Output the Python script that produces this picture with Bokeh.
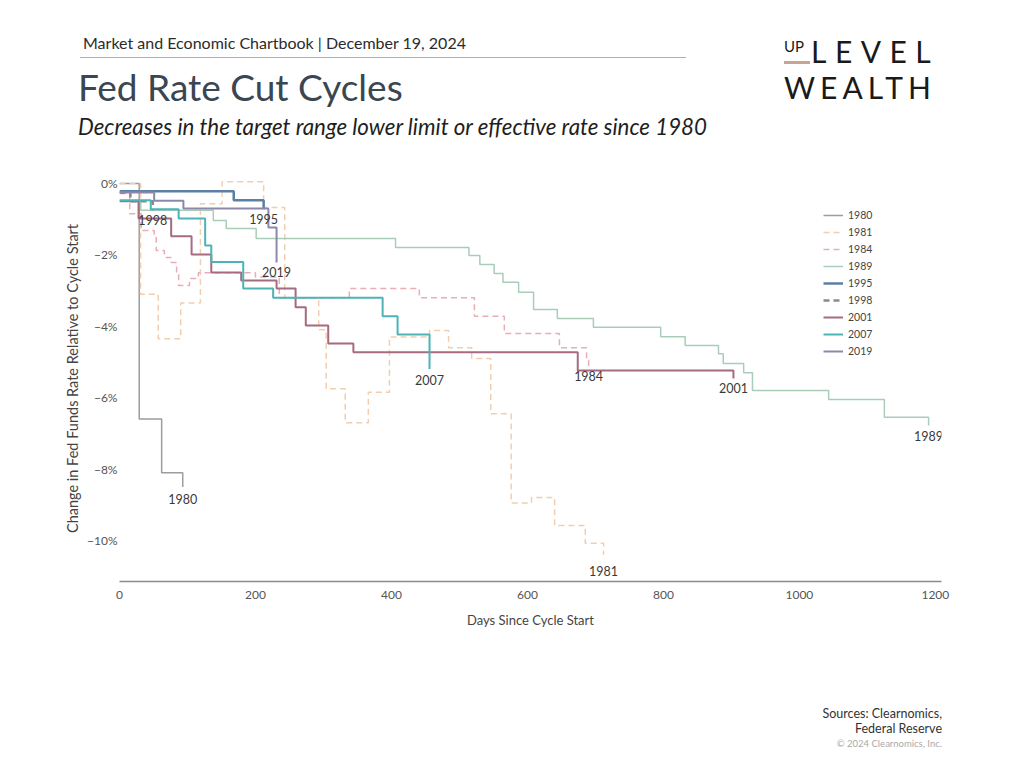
from bokeh.plotting import figure
from bokeh.models import (Range1d, CustomJSTickFormatter, FixedTicker, LabelSet,
                          ColumnDataSource, Div)
from bokeh.layouts import column
from bokeh.embed import file_html
from bokeh.resources import INLINE
from bokeh.core.properties import value

FONT = "Lato"

# ---------------- data (days since cycle start, change in % points) -------------
years = ["1980", "1981", "1984", "1989", "1995", "1998", "2001", "2007", "2019"]

days_1980 = [0, 29, 62, 93]
vals_1980 = [0, -6.6, -8.1, -8.5]

days_1981 = [0, 31, 57, 90, 119, 151, 212, 243, 293, 304, 332, 366, 397, 456, 484, 518, 546, 576, 606, 640, 685, 712]
vals_1981 = [0, -3.1, -4.35, -3.35, -0.57, 0.05, -0.67, -3.2, -4.1, -5.75, -6.7, -5.85, -4.3, -4.12, -4.6, -4.9, -6.45, -8.95, -8.8, -9.58, -10.08, -10.4]

days_1984 = [0, 15, 32, 51, 54, 66, 76, 84, 87, 103, 116, 200, 235, 338, 441, 522, 566, 647, 687, 690]
vals_1984 = [-0.28, -0.85, -1.32, -1.46, -1.88, -2.07, -2.21, -2.52, -2.86, -2.66, -2.5, -2.62, -3.2, -2.94, -3.2, -3.72, -4.2, -4.6, -4.95, -5.15]

days_1989 = [0, 31, 138, 157, 201, 406, 514, 530, 551, 564, 587, 609, 644, 697, 796, 832, 881, 888, 918, 931, 1043, 1125, 1190]
vals_1989 = [-0.5, -0.75, -1.04, -1.26, -1.54, -1.79, -2.02, -2.27, -2.52, -2.77, -3.05, -3.53, -3.78, -4.03, -4.29, -4.54, -4.77, -5.04, -5.3, -5.8, -6.05, -6.55, -6.78]

days_1995 = [0, 168, 212]
vals_1995 = [-0.22, -0.47, -0.72]

days_1998 = [0, 16, 49]
vals_1998 = [-0.25, -0.5, -0.75]

days_2001 = [0, 28, 76, 106, 135, 179, 231, 259, 274, 307, 344, 674, 903]
vals_2001 = [-0.5, -0.98, -1.48, -1.99, -2.49, -2.72, -2.94, -3.47, -3.98, -4.48, -4.73, -5.24, -5.46]

days_2007 = [0, 46, 87, 126, 135, 182, 226, 387, 409, 456]
vals_2007 = [-0.47, -0.72, -0.98, -1.74, -2.2, -2.94, -3.2, -3.72, -4.23, -5.2]

days_2019 = [0, 51, 94, 219, 231]
vals_2019 = [-0.25, -0.48, -0.7, -1.23, -2.21]

x_ticks = [0, 200, 400, 600, 800, 1000, 1200]
y_ticks = [0, -2, -4, -6, -8, -10]

series = {
    "1980": (days_1980, vals_1980),
    "1981": (days_1981, vals_1981),
    "1984": (days_1984, vals_1984),
    "1989": (days_1989, vals_1989),
    "1995": (days_1995, vals_1995),
    "1998": (days_1998, vals_1998),
    "2001": (days_2001, vals_2001),
    "2007": (days_2007, vals_2007),
    "2019": (days_2019, vals_2019),
}

styles = {
    "1980": dict(color="#9c9c9c", width=1.5, dash="solid", label_dy=-12),
    "1981": dict(color="#f2ceb0", width=1.5, dash="6 4", label_dy=-16),
    "1984": dict(color="#e8adb5", width=1.5, dash="6 4", label_dy=-9),
    "1989": dict(color="#a9cdb8", width=1.5, dash="solid", label_dy=-10),
    "1995": dict(color="#5b7fa5", width=2.5, dash="solid", label_dy=-10),
    "1998": dict(color="#8a8a8a", width=2.5, dash="6 4", label_dy=-10),
    "2001": dict(color="#a56b81", width=2, dash="solid", label_dy=-10),
    "2007": dict(color="#4cb3b6", width=2, dash="solid", label_dy=-11),
    "2019": dict(color="#8d88ab", width=2, dash="solid", label_dy=-10),
}

W = 1016
HDR_H, MAIN_H, FTR_H = 150, 490, 120

# ---------------- header (HTML) ----------------
hdr_html = f"""
<div style="position:relative;width:{W}px;height:{HDR_H}px;font-family:'{FONT}';overflow:hidden;">
  <div style="position:absolute;left:83px;top:33px;font-size:16px;line-height:20px;color:#2b2b2b;white-space:nowrap;">Market and Economic Chartbook | December 19, 2024</div>
  <div style="position:absolute;left:80px;top:57px;width:606px;height:1px;background:#a7b0b2;"></div>
  <div style="position:absolute;left:78px;top:65px;font-size:37px;line-height:44px;color:#3a4651;white-space:nowrap;">Fed Rate Cut Cycles</div>
  <div style="position:absolute;left:78px;top:114px;font-size:22.3px;line-height:26px;font-style:italic;color:#1e1e1e;white-space:nowrap;">Decreases in the target range lower limit or effective rate since 1980</div>
  <div style="position:absolute;left:784px;top:39px;font-size:15px;line-height:14px;color:#1a1a1a;white-space:nowrap;">UP</div>
  <div style="position:absolute;left:784px;top:61px;width:26px;height:3px;background:#c9a394;"></div>
  <div style="position:absolute;left:811px;top:36px;font-size:30px;line-height:30px;letter-spacing:8.5px;color:#1a1a1a;white-space:nowrap;">LEVEL</div>
  <div style="position:absolute;left:784px;top:72px;font-size:30px;line-height:30px;letter-spacing:5px;color:#1a1a1a;white-space:nowrap;">WEALTH</div>
</div>
"""
hdr = Div(text=hdr_html, width=W, height=HDR_H, margin=0)

# ---------------- main chart ----------------
FL, FR = 119, 941
p = figure(width=W, height=MAIN_H, x_range=Range1d(0, 1209), y_range=Range1d(-11.15, 0.224),
           output_backend="svg", toolbar_location=None,
           min_border_left=FL, min_border_right=W - FR, min_border_top=25, min_border_bottom=59)
p.grid.visible = False
p.outline_line_color = None

for yr in years:
    d, v = series[yr]
    s = styles[yr]
    p.step(x=d, y=v, mode="after", line_color=s["color"], line_width=s["width"],
           line_dash=s["dash"], legend_label=yr)

end_src = ColumnDataSource(dict(
    x=[series[yr][0][-1] for yr in years],
    y=[series[yr][1][-1] for yr in years],
    t=years,
    dy=[styles[yr]["label_dy"] for yr in years],
))
p.add_layout(LabelSet(x="x", y="y", text="t", y_offset="dy", source=end_src,
                      text_font=value(FONT), text_font_size="12.5px", text_align="center",
                      text_baseline="middle", text_color="#3a3a3a"))

p.xaxis.ticker = FixedTicker(ticks=x_ticks)
p.yaxis.ticker = FixedTicker(ticks=y_ticks)
p.yaxis.formatter = CustomJSTickFormatter(code="return (tick < 0 ? '\u2212' : '') + Math.abs(tick) + '%';")

for ax in (p.xaxis[0], p.yaxis[0]):
    ax.major_tick_line_color = None
    ax.minor_tick_line_color = None
    ax.major_tick_out = 0
    ax.major_tick_in = 0
    ax.minor_tick_out = 0
    ax.major_label_text_font = FONT
    ax.major_label_text_font_size = "12px"
    ax.major_label_text_color = "#555555"
    ax.axis_label_text_font = FONT
    ax.axis_label_text_font_style = "normal"
    ax.axis_label_text_color = "#444444"

p.xaxis.axis_line_color = "#8c8c8c"
p.xaxis.axis_line_width = 1.5
p.xaxis.major_label_standoff = 9
p.xaxis.axis_label = "Days Since Cycle Start"
p.xaxis.axis_label_text_font_size = "13px"
p.xaxis.axis_label_standoff = 10

p.yaxis.axis_line_color = None
p.yaxis.major_label_standoff = 2
p.yaxis.axis_label = "Change in Fed Funds Rate Relative to Cycle Start"
p.yaxis.axis_label_text_font_size = "14.5px"
p.yaxis.axis_label_standoff = 3

lg = p.legend[0]
lg.location = (704, 223)
lg.border_line_color = None
lg.background_fill_alpha = 0
lg.padding = 0
lg.margin = 0
lg.spacing = 3
lg.glyph_width = 20
lg.glyph_height = 14
lg.label_height = 14
lg.label_standoff = 5
lg.label_text_font = FONT
lg.label_text_font_size = "10.5px"
lg.label_text_color = "#444444"

# ---------------- footer (HTML) ----------------
ftr_html = f"""
<div style="position:relative;width:{W}px;height:{FTR_H}px;font-family:'{FONT}';overflow:hidden;">
  <div style="position:absolute;right:{W - 942}px;top:66px;font-size:12.5px;line-height:15px;color:#333333;text-align:right;white-space:nowrap;">Sources: Clearnomics,<br>Federal Reserve</div>
  <div style="position:absolute;right:{W - 942}px;top:98px;font-size:9.5px;line-height:12px;color:#aaaaaa;text-align:right;white-space:nowrap;">&copy; 2024 Clearnomics, Inc.</div>
</div>
"""
ftr = Div(text=ftr_html, width=W, height=FTR_H, margin=0)

layout = column(hdr, p, ftr, spacing=0)
open("out.html", "w").write(file_html(layout, INLINE))
